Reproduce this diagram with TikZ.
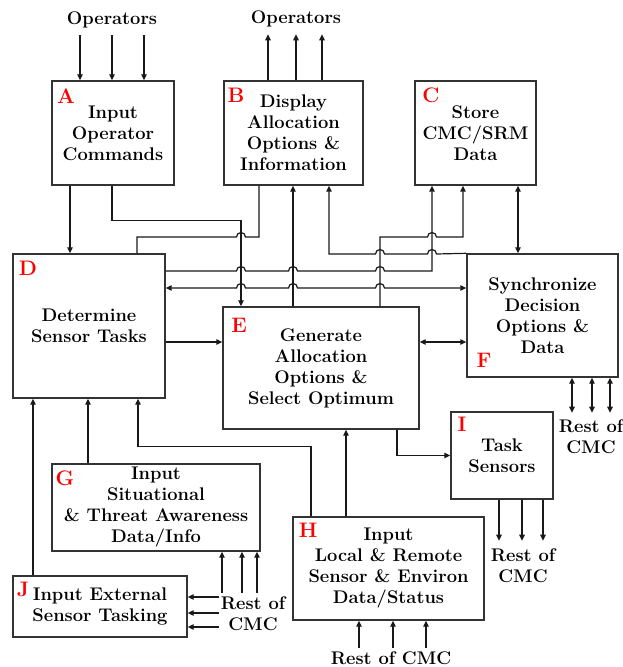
\documentclass[tikz,border=0pt]{standalone}
\usetikzlibrary{arrows.meta}
\newcommand{\txtfnt}{\fontsize{18.3}{21}\selectfont\bfseries}
\newcommand{\tagfnt}{\fontsize{21}{21}\selectfont\bfseries}
\newcommand{\hump}{arc[start angle=180,end angle=360,radius=4.5]}
\tikzset{
    box/.style 2 args={draw=black!80, line width=1.4pt, minimum width=#1, minimum height=#2, inner sep=0, align=center, font=\txtfnt},
    tag/.style={text=red, font=\tagfnt, inner sep=0},
    lbl/.style={align=center, font=\txtfnt, inner sep=0},
    link/.style={line width=1.2pt, draw=black!90}
}

\begin{document}
\begin{tikzpicture}[x=1pt, y=-1pt, >={Triangle[length=6pt,width=5.5pt]}]
    \useasboundingbox (0,0) rectangle (623,667);

    \node[box={122}{104}] (A) at (113,133) {Input\\Operator\\Commands};
    \node[box={139}{104}] (B) at (293.5,133) {Display\\Allocation\\Options \&\\Information};
    \node[box={121}{104}] (C) at (475.5,133) {Store\\CMC/SRM\\Data};
    \node[box={152}{144}] (D) at (89,326) {Determine\\Sensor Tasks};
    \node[box={196}{122}] (E) at (321,368) {Generate\\Allocation\\Options \&\\Select Optimum};
    \node[box={151}{123}] (F) at (542.5,315.5) {Synchronize\\Decision\\Options \&\\Data};
    \node[box={208}{87}] (G) at (156,507.5) {Input\\Situational\\\& Threat Awareness\\Data/Info};
    \node[box={191}{103}] (H) at (388.5,568.5) {Input\\Local \& Remote\\Sensor \& Environ\\Data/Status};
    \node[box={102}{87}] (I) at (502,455.5) {Task\\Sensors};
    \node[box={174}{61}] (J) at (100,606.5) {Input External\\Sensor Tasking};

    \node[tag] (tA) at (66,96) {A};
    \node[tag] (tB) at (236,95) {B};
    \node[tag] (tC) at (431,95) {C};
    \node[tag] (tD) at (28,268) {D};
    \node[tag] (tE) at (239,325) {E};
    \node[tag] (tF) at (484,360) {F};
    \node[tag] (tG) at (65,478) {G};
    \node[tag] (tH) at (308,530) {H};
    \node[tag] (tI) at (462,424) {I};
    \node[tag] (tJ) at (23,589) {J};

    \node[lbl] (opA) at (112,20) {Operators};
    \node[lbl] (opB) at (296,19) {Operators};
    \node[lbl] (restF) at (591,437) {Rest of\\CMC};
    \node[lbl] (restI) at (523,566) {Rest of\\CMC};
    \node[lbl] (restG) at (253,614) {Rest of\\CMC};
    \node[lbl] (restH) at (391,658) {Rest of CMC};

    \foreach \dx in {-33,-1,31}
        \draw[link,->] ([xshift=\dx pt, yshift=45pt]A.north) -- ([xshift=\dx pt]A.north);
    \foreach \dx in {-25.5,2.5,28.5}
        \draw[link,->] ([xshift=\dx pt]B.north) -- ([xshift=\dx pt, yshift=46pt]B.north);

    \draw[link,->] ([xshift=-43pt]A.south) -- ([xshift=-19pt]D.north);
    \draw[link,->] ([xshift=-1pt]A.south) -- ++(0,35) -| ([xshift=-80pt]E.north);
    \draw[link] ([xshift=48pt]D.north) |- (236.5,237) \hump -| ([xshift=-34.5pt]B.south);
    \draw[link,->] ([xshift=-28pt]E.north) -- ([xshift=-0.5pt]B.south);
    \draw[link,<-] ([xshift=35.5pt]B.south) |- (375.5,254) \hump -- (427.5,254) \hump -- (F.north west);
    \draw[link,->] ([xshift=59pt]E.north) |- (427.5,237) \hump -| ([xshift=-12.5pt]C.south);
    \draw[link,->] ([yshift=55pt]D.east) -- (236.5,271) \hump -- (288.5,271) \hump -- (375.5,271) \hump -| ([xshift=-43.5pt]C.south);
    \draw[link,<->] ([yshift=38pt]D.east) -- (236.5,288) \hump -- (288.5,288) \hump -- (375.5,288) \hump -- ([yshift=27.5pt]F.west);
    \draw[link,<->] ([xshift=42.5pt]C.south) -- ([xshift=-24.5pt]F.north);
    \draw[link,->] ([yshift=-16pt]D.east) -- ([yshift=26pt]E.west);
    \draw[link,<->] ([yshift=26pt]E.east) -- ([yshift=-26.5pt]F.west);

    \draw[link,->] ([xshift=-67pt]J.north) -- ([xshift=-56pt]D.south);
    \draw[link,->] ([xshift=-68pt]G.north) -- ([xshift=-1pt]D.south);
    \draw[link,->] ([xshift=-77.5pt]H.north) -- ++(0,-70) -| ([xshift=49pt]D.south);
    \draw[link,->] ([xshift=-42.5pt]H.north) -- ([xshift=25pt]E.south);
    \draw[link,->] ([xshift=76pt]E.south) |- (I.west);

    \foreach \dx in {-3,20,41}
        \draw[link,->] ([xshift=\dx pt]I.south) -- ++(0,41);
    \foreach \dx in {29.5,49.5,67.5}
        \draw[link,<->] ([xshift=\dx pt]F.south) -- ++(0,35);
    \foreach \dx in {66,86,101}
        \draw[link,<-] ([xshift=\dx pt]G.south) -- ++(0,41);
    \foreach \dy in {9.5,-6.5,-20.5}
        \draw[link,<-] ([yshift=\dy pt]J.east) -- ++(31,0);
    \foreach \dx in {-29.5,4.5,37.5}
        \draw[link,<-] ([xshift=\dx pt]H.south) -- ++(0,27);
\end{tikzpicture}
\end{document}
